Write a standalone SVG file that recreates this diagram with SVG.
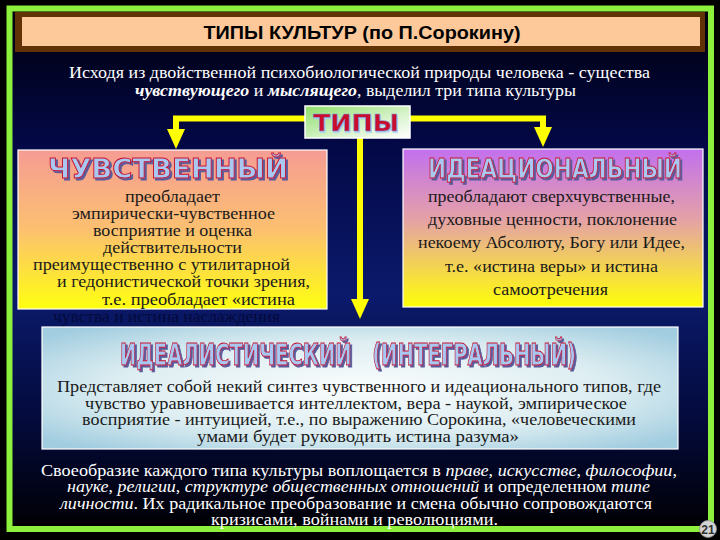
<svg xmlns="http://www.w3.org/2000/svg" width="720" height="540" viewBox="0 0 720 540">
<defs>
<linearGradient id="bg" x1="0" y1="0" x2="0" y2="1">
<stop offset="0" stop-color="#00000c"/>
<stop offset="0.25" stop-color="#030845"/>
<stop offset="0.55" stop-color="#0b1a6c"/>
<stop offset="0.8" stop-color="#030a3a"/>
<stop offset="1" stop-color="#000004"/>
</linearGradient>
<linearGradient id="gLeft" x1="0" y1="0" x2="0" y2="1">
<stop offset="0" stop-color="#f59c94"/>
<stop offset="0.5" stop-color="#fcc070"/>
<stop offset="1" stop-color="#ffff10"/>
</linearGradient>
<linearGradient id="gRight" x1="0" y1="0" x2="0" y2="1">
<stop offset="0" stop-color="#c270ee"/>
<stop offset="0.45" stop-color="#e5a2a6"/>
<stop offset="1" stop-color="#ffff08"/>
</linearGradient>
<radialGradient id="gBottom" cx="0.5" cy="0.5" r="0.65">
<stop offset="0" stop-color="#fbfdfd"/>
<stop offset="0.6" stop-color="#dcedf1"/>
<stop offset="1" stop-color="#a2cde0"/>
</radialGradient>
<linearGradient id="gTypes" x1="0" y1="0" x2="1" y2="1">
<stop offset="0" stop-color="#8ede6a"/>
<stop offset="0.6" stop-color="#d8f4cc"/>
<stop offset="1" stop-color="#ffffff"/>
</linearGradient>
<filter id="shadow" filterUnits="userSpaceOnUse" x="0" y="0" width="720" height="540">
<feDropShadow dx="2" dy="2" stdDeviation="0" flood-color="#5a5a9a" flood-opacity="1"/>
</filter>
<filter id="shadow2" filterUnits="userSpaceOnUse" x="0" y="0" width="720" height="540">
<feDropShadow dx="1" dy="1.5" stdDeviation="0" flood-color="#a8c8f2" flood-opacity="1"/>
</filter>
<marker id="arr" markerUnits="userSpaceOnUse" markerWidth="20" markerHeight="18" refX="0" refY="9" orient="auto" viewBox="0 0 20 18">
<path d="M0,0 L20,9 L0,18 Z" fill="#ffff00"/>
</marker>
<style>
.body{font-family:"Liberation Serif","DejaVu Serif",serif;font-size:16.5px;fill:#1a1a1a}
.white{font-family:"Liberation Serif","DejaVu Serif",serif;font-size:16.5px;fill:#ffffff}
.wa{font-family:"DejaVu Sans","Liberation Sans",sans-serif;font-weight:bold;fill:#a8c8f2;stroke:#c8102e;stroke-width:0.9;filter:url(#shadow)}
.box{stroke:#ffffff;stroke-width:1.2}
.conn{fill:none;stroke:#ffff00;stroke-width:6;stroke-linejoin:miter}
</style>
</defs>
<rect width="720" height="540" fill="#000000"/>
<rect x="12" y="12" width="696" height="514" fill="url(#bg)"/>
<rect x="9.5" y="8.5" width="701.5" height="520.5" fill="none" stroke="#8cf03c" stroke-width="6"/>

<g id="title">
<rect x="15" y="12" width="690" height="40" fill="#603206"/>
<rect x="22" y="17" width="678" height="29" fill="#fdc89a"/>
<text x="362" y="39" text-anchor="middle" textLength="317" lengthAdjust="spacingAndGlyphs" font-family="Liberation Sans, Arial, sans-serif" font-weight="bold" font-size="19" fill="#000000">ТИПЫ КУЛЬТУР (по П.Сорокину)</text>
</g>

<g id="intro">
<text class="white" x="69" y="78" font-size="17" textLength="581" lengthAdjust="spacingAndGlyphs">Исходя из двойственной психобиологической природы человека - существа</text>
<text class="white" x="135" y="96" font-size="17" textLength="441" lengthAdjust="spacingAndGlyphs"><tspan font-weight="bold" font-style="italic">чувствующего</tspan> и <tspan font-weight="bold" font-style="italic">мыслящего</tspan>, выделил три типа культуры</text>
</g>

<g id="connectors">
<path class="conn" d="M306 118.5 H176 V129" marker-end="url(#arr)"/>
<path class="conn" d="M409 118.5 H543 V127" marker-end="url(#arr)"/>
<path class="conn" d="M360 138 V299" marker-end="url(#arr)"/>
</g>

<g id="types">
<rect x="305" y="106" width="105" height="32" fill="url(#gTypes)" stroke="#ffffff" stroke-width="1.5"/>
<text x="356" y="131" text-anchor="middle" textLength="86" lengthAdjust="spacingAndGlyphs" font-family="DejaVu Sans, sans-serif" font-weight="bold" font-size="23" fill="#c8102e" stroke="#7a98d8" stroke-width="0.6" filter="url(#shadow2)">ТИПЫ</text>
</g>

<g id="sensate">
<rect class="box" x="18" y="150" width="309" height="159" fill="url(#gLeft)"/>
<text class="wa" x="48" y="178" font-size="27" textLength="240" lengthAdjust="spacingAndGlyphs">ЧУВСТВЕННЫЙ</text>
<text class="body" x="125" y="202" textLength="95" lengthAdjust="spacingAndGlyphs">преобладает</text>
<text class="body" x="72" y="219" textLength="203" lengthAdjust="spacingAndGlyphs">эмпирически-чувственное</text>
<text class="body" x="93" y="236" textLength="159" lengthAdjust="spacingAndGlyphs">восприятие и оценка</text>
<text class="body" x="103" y="253" textLength="139" lengthAdjust="spacingAndGlyphs">действительности</text>
<text class="body" x="33" y="270" textLength="257" lengthAdjust="spacingAndGlyphs">преимущественно с утилитарной</text>
<text class="body" x="57" y="287" textLength="253" lengthAdjust="spacingAndGlyphs">и гедонистической точки зрения,</text>
<text class="body" x="102" y="305" textLength="193" lengthAdjust="spacingAndGlyphs">т.е. преобладает «истина</text>
<text class="body" x="53" y="322" textLength="227" lengthAdjust="spacingAndGlyphs" style="fill:#040a3c">чувства и истина наслаждения</text>
</g>

<g id="ideational">
<rect class="box" x="403" y="149" width="300" height="158" fill="url(#gRight)"/>
<text class="wa" x="428" y="178" font-size="27" textLength="254" lengthAdjust="spacingAndGlyphs">ИДЕАЦИОНАЛЬНЫЙ</text>
<text class="body" x="428" y="202" textLength="247" lengthAdjust="spacingAndGlyphs">преобладают сверхчувственные,</text>
<text class="body" x="428" y="225" textLength="249" lengthAdjust="spacingAndGlyphs">духовные ценности, поклонение</text>
<text class="body" x="418" y="248" textLength="267" lengthAdjust="spacingAndGlyphs">некоему Абсолюту, Богу или Идее,</text>
<text class="body" x="445" y="272" textLength="213" lengthAdjust="spacingAndGlyphs">т.е. «истина веры» и истина</text>
<text class="body" x="493" y="295" textLength="115" lengthAdjust="spacingAndGlyphs">самоотречения</text>
</g>

<g id="idealistic">
<rect class="box" x="42" y="327" width="636" height="122" fill="url(#gBottom)"/>
<text class="wa" x="120" y="365" font-size="31" textLength="456" lengthAdjust="spacingAndGlyphs" xml:space="preserve">ИДЕАЛИСТИЧЕСКИЙ   (ИНТЕГРАЛЬНЫЙ)</text>
<text class="body" x="57" y="392" font-size="16" textLength="604" lengthAdjust="spacingAndGlyphs">Представляет собой некий синтез чувственного и идеационального типов, где</text>
<text class="body" x="85" y="409" font-size="16" textLength="542" lengthAdjust="spacingAndGlyphs">чувство уравновешивается интеллектом, вера - наукой, эмпирическое</text>
<text class="body" x="82" y="425" font-size="16" textLength="554" lengthAdjust="spacingAndGlyphs">восприятие - интуицией, т.е., по выражению Сорокина, «человеческими</text>
<text class="body" x="197" y="442" font-size="16" textLength="322" lengthAdjust="spacingAndGlyphs">умами будет руководить истина разума»</text>
</g>

<g id="conclusion">
<text class="white" x="41" y="476" font-size="16" textLength="636" lengthAdjust="spacingAndGlyphs">Своеобразие каждого типа культуры воплощается в <tspan font-style="italic">праве</tspan>, <tspan font-style="italic">искусстве</tspan>, <tspan font-style="italic">философии</tspan>,</text>
<text class="white" x="67" y="492" font-size="16" textLength="583" lengthAdjust="spacingAndGlyphs"><tspan font-style="italic">науке</tspan>, <tspan font-style="italic">религии</tspan>, <tspan font-style="italic">структуре общественных отношений</tspan> и определенном <tspan font-style="italic">типе</tspan></text>
<text class="white" x="60" y="509" font-size="16" textLength="592" lengthAdjust="spacingAndGlyphs"><tspan font-style="italic">личности</tspan>. Их радикальное преобразование и смена обычно сопровождаются</text>
<text class="white" x="211" y="525" font-size="16" textLength="287" lengthAdjust="spacingAndGlyphs">кризисами, войнами и революциями.</text>
</g>

<g id="page">
<circle cx="708" cy="529" r="8.5" fill="#d4d4d4" stroke="#909090" stroke-width="0.8"/>
<text x="708" y="533.5" text-anchor="middle" font-family="Liberation Sans, Arial, sans-serif" font-weight="bold" font-size="12" fill="#303030">21</text>
</g>
</svg>
